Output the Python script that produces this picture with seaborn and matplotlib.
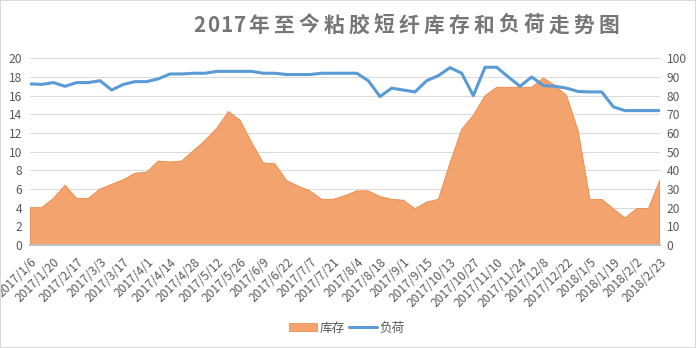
import numpy as np
import pandas as pd
import matplotlib
matplotlib.use("Agg")
import matplotlib.pyplot as plt
import seaborn as sns
from matplotlib.patches import Rectangle, Patch
from matplotlib.lines import Line2D

title_text = "2017年至今粘胶短纤库存和负荷走势图"

dates = ["2017/1/6", "2017/1/13", "2017/1/20", "2017/2/10", "2017/2/17", "2017/2/24",
         "2017/3/3", "2017/3/10", "2017/3/17", "2017/3/24", "2017/4/1", "2017/4/7",
         "2017/4/14", "2017/4/21", "2017/4/28", "2017/5/5", "2017/5/12", "2017/5/19",
         "2017/5/26", "2017/6/2", "2017/6/9", "2017/6/16", "2017/6/22", "2017/6/30",
         "2017/7/7", "2017/7/14", "2017/7/21", "2017/7/28", "2017/8/4", "2017/8/11",
         "2017/8/18", "2017/8/25", "2017/9/1", "2017/9/8", "2017/9/15", "2017/9/29",
         "2017/10/13", "2017/10/20", "2017/10/27", "2017/11/3", "2017/11/10", "2017/11/17",
         "2017/11/24", "2017/12/1", "2017/12/8", "2017/12/15", "2017/12/22", "2017/12/29",
         "2018/1/5", "2018/1/12", "2018/1/19", "2018/1/26", "2018/2/2", "2018/2/9",
         "2018/2/23"]

inventory = [4, 4, 5, 6.4, 5, 5, 6, 6.5, 7, 7.7, 7.8, 9, 8.9, 9, 10.1, 11.2, 12.5, 14.3,
             13.4, 11, 8.8, 8.7, 6.9, 6.3, 5.8, 4.9, 4.9, 5.3, 5.8, 5.8, 5.2, 4.9, 4.8,
             3.9, 4.6, 4.9, 8.8, 12.4, 13.9, 16.0, 16.9, 16.9, 16.9, 16.9, 17.9, 17.1,
             16.0, 12.2, 4.9, 4.9, 3.9, 2.9, 3.9, 3.9, 7.0]

load = [86.3, 86, 87, 85, 87, 87, 88, 83, 86, 87.5, 87.5, 89, 91.6, 91.6, 92, 92, 93, 93,
        93, 93, 92, 92, 91.3, 91.3, 91.3, 92, 92, 92, 92, 88, 79.5, 84, 83, 82, 88, 90.7,
        95, 92, 80, 95.2, 95.2, 90, 85, 90, 85.4, 85, 84, 82.2, 82, 82, 74, 72, 72, 72, 72]

series_names = ["库存", "负荷"]

df = pd.DataFrame({"date": dates, "inventory": inventory, "load": load})
df["pos"] = np.arange(len(df))

sns.set_theme(style="white")
plt.rcParams["font.family"] = ["Noto Sans CJK SC", "DejaVu Sans"]
plt.rcParams["hatch.linewidth"] = 1.05

ORANGE = "#ED7D31"
BLUE = "#5B9BD5"
TXT = "#595959"
GRID = "#D9D9D9"

W, H = 696, 348
fig = plt.figure(figsize=(W / 96, H / 96), dpi=96)
ax = fig.add_axes([30 / W, 1 - 245 / H, 630 / W, (245 - 58.3) / H])

ax.fill_between(df["pos"], df["inventory"], 0, facecolor="white", edgecolor=ORANGE,
                hatch="--------", linewidth=0.5, zorder=2)
ax.set_xlim(0, len(df) - 1)
ax.set_ylim(0, 20)
ax.set_yticks(np.arange(0, 21, 2))
ax.yaxis.grid(True, color=GRID, linewidth=0.75)
ax.set_axisbelow(True)
ax.set_xticks(df["pos"][::2])
ax.set_xticklabels(df["date"][::2], rotation=45, ha="right", va="top",
                   rotation_mode="anchor", fontsize=9, color=TXT)
ax.tick_params(axis="x", direction="out", length=4, width=1.2, color="#BFBFBF", pad=4)
ax.tick_params(axis="y", length=0, pad=6, labelsize=9, labelcolor=TXT)
for s in ["left", "right", "top"]:
    ax.spines[s].set_visible(False)
ax.spines["bottom"].set_color("#BFBFBF")
ax.spines["bottom"].set_linewidth(1.5)
ax.spines["bottom"].set_zorder(3)

ax2 = ax.twinx()
sns.lineplot(data=df, x="pos", y="load", ax=ax2, color=BLUE, linewidth=2.3)
ax2.set_ylim(0, 100)
ax2.set_yticks(np.arange(0, 101, 10))
ax2.tick_params(axis="y", length=0, pad=5, labelsize=9, labelcolor=TXT)
ax2.set_xlabel("")
ax2.set_ylabel("")
ax.set_xlabel("")
ax.set_ylabel("")
for s in ["left", "right", "top", "bottom"]:
    ax2.spines[s].set_visible(False)
ax2.grid(False)

# title with Excel-like letter spacing
tx = 193
for ch in title_text:
    fig.text(tx / W, 1 - 25 / H, ch, fontsize=15.5, fontweight="bold", color="#767676",
             ha="left", va="center")
    tx += 13.8 if ch.isdigit() else 25

handles = [Patch(facecolor="white", edgecolor=ORANGE, hatch="--------", linewidth=0.5),
           Line2D([0], [0], color=BLUE, linewidth=2.3)]
fig.legend(handles, series_names, loc="center", bbox_to_anchor=(347 / W, 1 - 328 / H),
           ncol=2, frameon=False, fontsize=9.5, handlelength=2.2, handleheight=0.6,
           columnspacing=0.3, handletextpad=0.2, labelcolor=TXT)

fig.patches.append(Rectangle((0, 0), 1, 1, transform=fig.transFigure, fill=False,
                             edgecolor=GRID, linewidth=1.5))

fig.savefig("out.png", dpi=96)
